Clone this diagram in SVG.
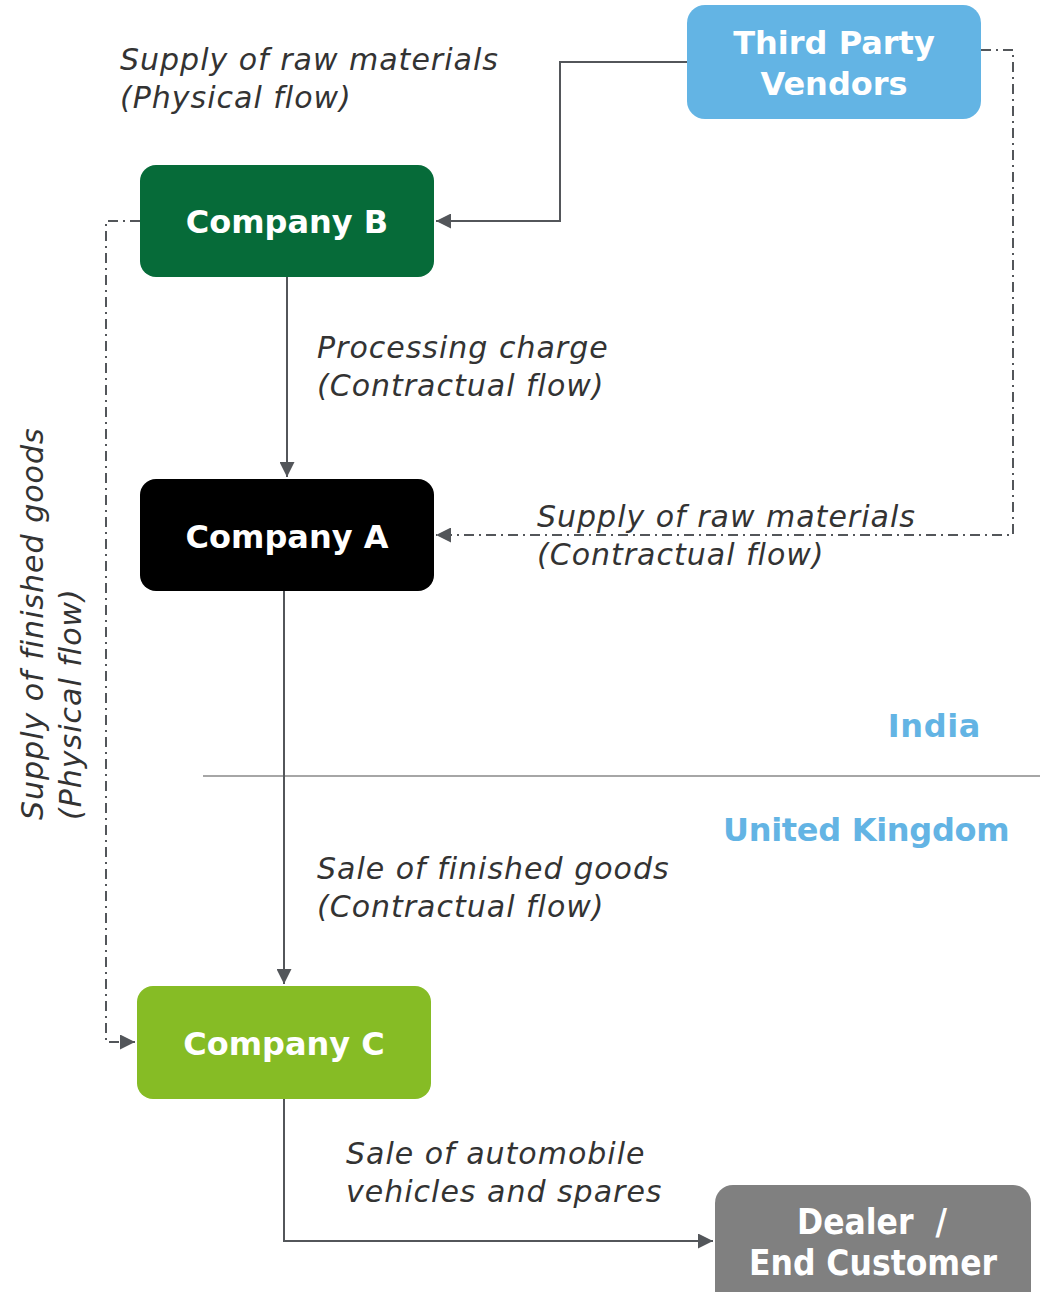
<svg xmlns="http://www.w3.org/2000/svg" width="1040" height="1292" viewBox="0 0 1040 1292">
<style>
.nt{font-family:"DejaVu Sans",Verdana,sans-serif;font-weight:bold;font-size:32px;fill:#fff;text-anchor:middle}
.cd{font-family:"DejaVu Sans Condensed","DejaVu Sans",sans-serif;font-size:35px}
.lb{font-family:"DejaVu Sans",Verdana,sans-serif;font-style:italic;font-size:30px;letter-spacing:1px;fill:#333}
.rg{font-family:"DejaVu Sans",Verdana,sans-serif;font-weight:bold;font-size:32px;fill:#63B4E4}
.c{fill:none;stroke:#53565A;stroke-width:2}
.dd{stroke-dasharray:10 5 2 5}
</style>
<defs>
<marker id="ah2" viewBox="0 0 10 10" refX="10" refY="5" markerWidth="15" markerHeight="15" markerUnits="userSpaceOnUse" orient="auto">
<path d="M0,0 L10,5 L0,10 Z" fill="#53565A"/>
</marker>
</defs>
<line x1="203" y1="776" x2="1040" y2="776" stroke="#888" stroke-width="1.5"/>
<g id="connectors">
<path class="c" d="M687,62 H560 V221 H436" marker-end="url(#ah2)"/>
<path class="c" d="M287,277 V477" marker-end="url(#ah2)"/>
<path class="c" d="M284,591 V984" marker-end="url(#ah2)"/>
<path class="c" d="M284,1099 V1241 H713" marker-end="url(#ah2)"/>
<path class="c dd" d="M981,50 H1013 V535 H436" marker-end="url(#ah2)"/>
<path class="c dd" d="M140,221 H106 V1042 H135" marker-end="url(#ah2)"/>
</g>
<g id="third-party">
<rect x="687" y="5" width="294" height="114" rx="18" fill="#63B4E4"/>
<text class="nt" x="834" y="54">Third Party</text>
<text class="nt" x="834" y="95">Vendors</text>
</g>
<g id="company-b">
<rect x="140" y="165" width="294" height="112" rx="16" fill="#066B39"/>
<text class="nt" x="287" y="233">Company B</text>
</g>
<g id="company-a">
<rect x="140" y="479" width="294" height="112" rx="16" fill="#000"/>
<text class="nt" x="287" y="548">Company A</text>
</g>
<g id="company-c">
<rect x="137" y="986" width="294" height="113" rx="16" fill="#86BC25"/>
<text class="nt" x="284" y="1055">Company C</text>
</g>
<g id="dealer">
<rect x="715" y="1185" width="316" height="130" rx="18" fill="#808080"/>
<text class="nt cd" x="872" y="1234">Dealer&#160; /</text>
<text class="nt cd" x="873" y="1275">End Customer</text>
</g>
<g id="labels">
<text class="lb" x="120" y="70">Supply of raw materials</text>
<text class="lb" x="120" y="108">(Physical flow)</text>
<text class="lb" x="317" y="358">Processing charge</text>
<text class="lb" x="317" y="396">(Contractual flow)</text>
<text class="lb" x="537" y="527">Supply of raw materials</text>
<text class="lb" x="537" y="565">(Contractual flow)</text>
<text class="lb" x="317" y="879">Sale of finished goods</text>
<text class="lb" x="317" y="917">(Contractual flow)</text>
<text class="lb" x="346" y="1164">Sale of automobile</text>
<text class="lb" x="346" y="1202">vehicles and spares</text>
<text class="lb" transform="translate(43,820) rotate(-90)">Supply of finished goods</text>
<text class="lb" transform="translate(81,820) rotate(-90)">(Physical flow)</text>
<text class="rg" x="981" y="737" text-anchor="end" letter-spacing="0.6">India</text>
<text class="rg" x="723" y="841" letter-spacing="-0.3">United Kingdom</text>
</g>
</svg>
